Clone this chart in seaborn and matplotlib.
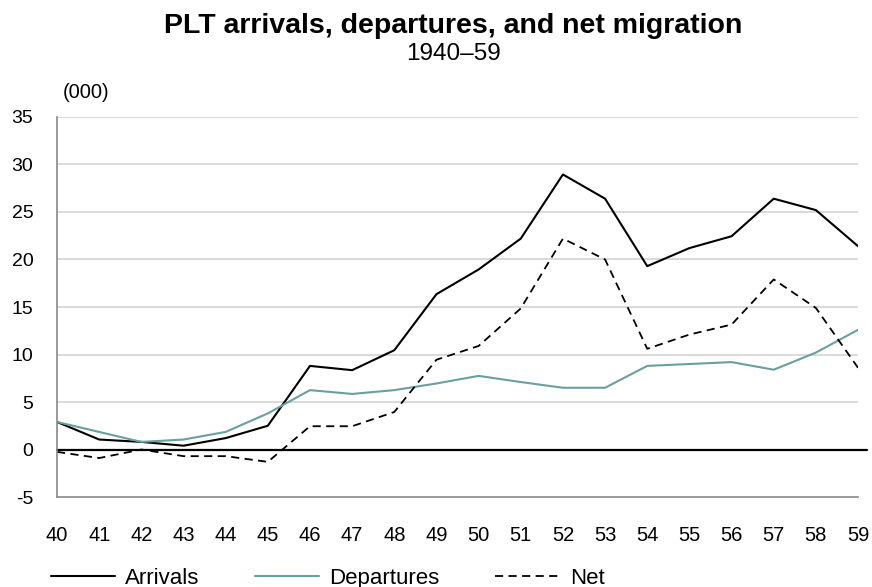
import numpy as np
import pandas as pd
import seaborn as sns
import matplotlib.pyplot as plt

# == data (thousands) == #
years = list(range(40, 60))
arrivals = [2.9, 1.05, 0.8, 0.4, 1.2, 2.5, 8.8, 8.35, 10.45, 16.35,
            18.95, 22.2, 28.95, 26.4, 19.3, 21.2, 22.45, 26.4, 25.2, 21.4]
departures = [2.9, 1.85, 0.8, 1.05, 1.85, 3.8, 6.25, 5.85, 6.25, 6.95,
              7.75, 7.1, 6.5, 6.5, 8.8, 9.0, 9.2, 8.4, 10.2, 12.6]
net = [-0.25, -0.9, 0.0, -0.7, -0.7, -1.3, 2.45, 2.45, 3.95, 9.45,
       10.9, 14.85, 22.2, 20.0, 10.6, 12.1, 13.15, 17.9, 14.9, 8.6]

df = pd.DataFrame({'Year': years, 'Arrivals': arrivals,
                   'Departures': departures, 'Net': net})

sns.set_style('white')
plt.rcParams['font.family'] = ['Liberation Sans', 'DejaVu Sans']
plt.rcParams['axes.unicode_minus'] = False
plt.rcParams['text.color'] = 'black'
plt.rcParams['xtick.labelcolor'] = 'black'
plt.rcParams['ytick.labelcolor'] = 'black'

fig = plt.figure(figsize=(8.72, 5.87), dpi=100)
ax = fig.add_axes([0.0654, 0.1533, 0.9186, 0.6474])

grid_c = '#d9d9d9'
for v in range(5, 40, 5):
    ax.axhline(v, color=grid_c, lw=1.4, zorder=0)
ax.axhline(0, xmin=0, xmax=1.011, color='black', lw=1.6, zorder=1, clip_on=False)

sns.lineplot(data=df, x='Year', y='Arrivals', ax=ax, color='black', lw=1.5, label='Arrivals')
sns.lineplot(data=df, x='Year', y='Departures', ax=ax, color='#6a9fa0', lw=1.5, label='Departures')
sns.lineplot(data=df, x='Year', y='Net', ax=ax, color='black', lw=1.3,
             linestyle=(0, (4.5, 3)), label='Net')

ax.set_xlim(40, 59)
ax.set_ylim(-5, 35)
ax.set_xticks(years)
ax.set_xticklabels([str(y) for y in years])
ax.set_yticks(range(-5, 40, 5))
ax.set_xlabel('')
ax.set_ylabel('')
ax.tick_params(axis='x', direction='out', length=6, width=1.2, color='#888888',
               labelsize=14.5, pad=15, labelcolor='black')
ax.tick_params(axis='y', length=0, labelsize=14, pad=17, labelcolor='black')
for s in ['top', 'right']:
    ax.spines[s].set_visible(False)
for s in ['left', 'bottom']:
    ax.spines[s].set_color('#888888')
    ax.spines[s].set_linewidth(1.2)

fig.text(0.52, 0.943, 'PLT arrivals, departures, and net migration',
         ha='center', va='baseline', fontsize=20.5, fontweight='bold', color='black')
fig.text(0.52, 0.897, '1940\u201359', ha='center', va='baseline', fontsize=17.5, color='black')
fig.text(0.072, 0.842, '(000)', ha='left', va='center', fontsize=14.5, color='black')

leg = ax.legend(loc='center left', bbox_to_anchor=(0.058, 0.015), bbox_transform=fig.transFigure,
                ncol=3, frameon=False, fontsize=16, handlelength=2.9, columnspacing=2.5,
                handletextpad=0.45, borderpad=0, borderaxespad=0)
for t in leg.get_texts():
    t.set_color('black')

fig.savefig('out.png', dpi=100)
